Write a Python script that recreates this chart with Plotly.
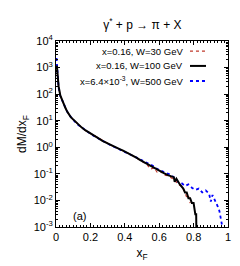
import plotly.graph_objects as go

# ---- data ----
xf_black = [0.005, 0.015, 0.025, 0.035, 0.045, 0.055, 0.065, 0.075, 0.085, 0.095,
            0.11, 0.13, 0.15, 0.17, 0.19, 0.21, 0.23, 0.25, 0.27, 0.29,
            0.31, 0.33, 0.35, 0.37, 0.39, 0.41, 0.43, 0.45, 0.47, 0.49,
            0.51, 0.53, 0.55, 0.57, 0.59, 0.61, 0.63, 0.65, 0.67, 0.685,
            0.69, 0.70, 0.72, 0.74, 0.75, 0.76, 0.77, 0.78, 0.79, 0.80, 0.81, 0.815, 0.816]
dm_black = [1200, 200, 90, 60, 42, 30, 22, 17, 14, 12,
            9.5, 7.0, 5.5, 4.4, 3.6, 3.0, 2.5, 2.1, 1.75, 1.5,
            1.3, 1.12, 0.98, 0.86, 0.75, 0.65, 0.56, 0.47, 0.40, 0.33,
            0.28, 0.23, 0.19, 0.16, 0.14, 0.12, 0.105, 0.09, 0.078, 0.075,
            0.05, 0.065, 0.04, 0.028, 0.02, 0.02, 0.012, 0.012, 0.008, 0.008, 0.003, 0.003, 0.0009]

xf_red = [0.005, 0.015, 0.025, 0.035, 0.045, 0.055, 0.065, 0.075, 0.085, 0.095,
          0.11, 0.13, 0.15, 0.17, 0.19, 0.21, 0.23, 0.25, 0.27, 0.29,
          0.31, 0.33, 0.35, 0.37, 0.39, 0.41, 0.43, 0.45, 0.47, 0.49,
          0.51, 0.53, 0.55, 0.57, 0.59, 0.61, 0.63, 0.65, 0.67, 0.69,
          0.71, 0.73, 0.75, 0.76, 0.77, 0.78]
dm_red = [1100, 190, 88, 58, 41, 30, 22, 17, 14, 11.8,
          9.4, 7.0, 5.5, 4.3, 3.6, 3.0, 2.5, 2.1, 1.75, 1.5,
          1.28, 1.1, 0.97, 0.85, 0.74, 0.64, 0.55, 0.46, 0.39, 0.32,
          0.27, 0.22, 0.15, 0.17, 0.11, 0.12, 0.09, 0.085, 0.07, 0.06,
          0.04, 0.035, 0.02, 0.013, 0.015, 0.008]

xf_blue = [0.003, 0.008, 0.015, 0.025, 0.035, 0.045, 0.055, 0.065, 0.075, 0.085, 0.095,
           0.11, 0.13, 0.15, 0.17, 0.19, 0.21, 0.23, 0.25, 0.27, 0.29,
           0.31, 0.33, 0.35, 0.37, 0.39, 0.41, 0.43, 0.45, 0.47, 0.49,
           0.51, 0.53, 0.55, 0.57, 0.59, 0.61, 0.63, 0.65, 0.67, 0.69,
           0.71, 0.73, 0.75, 0.77, 0.79, 0.81, 0.83, 0.85, 0.87, 0.89,
           0.90, 0.91, 0.93, 0.94, 0.95, 0.96, 0.965]
dm_blue = [2300, 900, 180, 85, 58, 40, 29, 22, 17, 14, 11.5,
           9.2, 6.8, 5.4, 4.3, 3.5, 2.9, 2.45, 2.05, 1.72, 1.48,
           1.27, 1.1, 0.96, 0.84, 0.74, 0.64, 0.56, 0.48, 0.41, 0.35,
           0.30, 0.26, 0.22, 0.19, 0.15, 0.13, 0.12, 0.10, 0.09, 0.07,
           0.05, 0.045, 0.035, 0.04, 0.03, 0.025, 0.028, 0.02, 0.024, 0.018,
           0.009, 0.016, 0.009, 0.006, 0.004, 0.002, 0.0012]

legend_labels = ["x=0.16, W=30 GeV", "x=0.16, W=100 GeV",
                 "x=6.4×10<sup>-3</sup>, W=500 GeV"]
x_ticks = [0, 0.2, 0.4, 0.6, 0.8, 1]
x_ticktext = ["0", "0.2", "0.4", "0.6", "0.8", "1"]
y_ticks = [1e-3, 1e-2, 1e-1, 1, 10, 100, 1e3, 1e4]
y_ticktext = ["10<sup>-3</sup>", "10<sup>-2</sup>", "10<sup>-1</sup>", "10<sup>0</sup>",
              "10<sup>1</sup>", "10<sup>2</sup>", "10<sup>3</sup>", "10<sup>4</sup>"]

FONT = "Liberation Sans, Arial, Helvetica, sans-serif"
RED = "#c0392b"
BLUE = "#0000ff"

fig = go.Figure()
fig.add_trace(go.Scatter(x=xf_blue, y=dm_blue, mode="lines",
                         line=dict(color=BLUE, width=1.8, dash="3px,3px"), name=legend_labels[2]))
fig.add_trace(go.Scatter(x=xf_red, y=dm_red, mode="lines",
                         line=dict(color=RED, width=1.2, dash="dot"), name=legend_labels[0]))
fig.add_trace(go.Scatter(x=xf_black, y=dm_black, mode="lines",
                         line=dict(color="black", width=2), name=legend_labels[1]))

# legend built manually (text on the left, sample on the right)
leg_y = [0.946, 0.866, 0.785]
leg_style = [dict(color=RED, width=1.2, dash="dot"),
             dict(color="black", width=2),
             dict(color=BLUE, width=1.8, dash="3px,3px")]
for lab, yy, st in zip(legend_labels, leg_y, leg_style):
    fig.add_annotation(xref="paper", yref="paper", x=0.752, y=yy, text=lab,
                       showarrow=False, xanchor="right", yanchor="middle",
                       font=dict(size=9.5, color="black", family=FONT))
    fig.add_shape(type="line", xref="paper", yref="paper",
                  x0=0.779, x1=0.872, y0=yy, y1=yy, line=st)

fig.add_annotation(xref="paper", yref="paper", x=0.135, y=0.06, text="(a)",
                   showarrow=False, xanchor="center", yanchor="middle",
                   font=dict(size=11, color="black", family=FONT))

axis_common = dict(showline=True, linecolor="black", linewidth=1, mirror="allticks",
                   ticks="inside", ticklen=4, tickcolor="black", showgrid=False,
                   zeroline=False, tickfont=dict(size=11, color="black", family=FONT))

fig.update_xaxes(range=[0, 1], tickmode="array", tickvals=x_ticks, ticktext=x_ticktext,
                 title=dict(text="x<sub>F</sub>", font=dict(size=12, color="black", family=FONT),
                            standoff=6),
                 minor=dict(ticks="inside", ticklen=2, dtick=0.02, tickcolor="black", showgrid=False),
                 **axis_common)
fig.update_yaxes(type="log", range=[-3, 4], tickmode="array", tickvals=y_ticks, ticktext=y_ticktext,
                 title=dict(text="dM/dx<sub>F</sub>", font=dict(size=12, color="black", family=FONT),
                            standoff=4),
                 minor=dict(ticks="inside", ticklen=2, dtick="D1", tickcolor="black", showgrid=False),
                 **axis_common)

fig.update_layout(width=240, height=266, showlegend=False,
                  margin=dict(l=48, r=20, t=33, b=47),
                  paper_bgcolor="white", plot_bgcolor="white",
                  title=dict(text="γ<sup>*</sup> + p → π + X", x=0.56, xanchor="center",
                             y=0.935, yanchor="middle",
                             font=dict(size=12, color="black", family=FONT)),
                  font=dict(family=FONT, color="black"))

fig.write_html("out.html")
